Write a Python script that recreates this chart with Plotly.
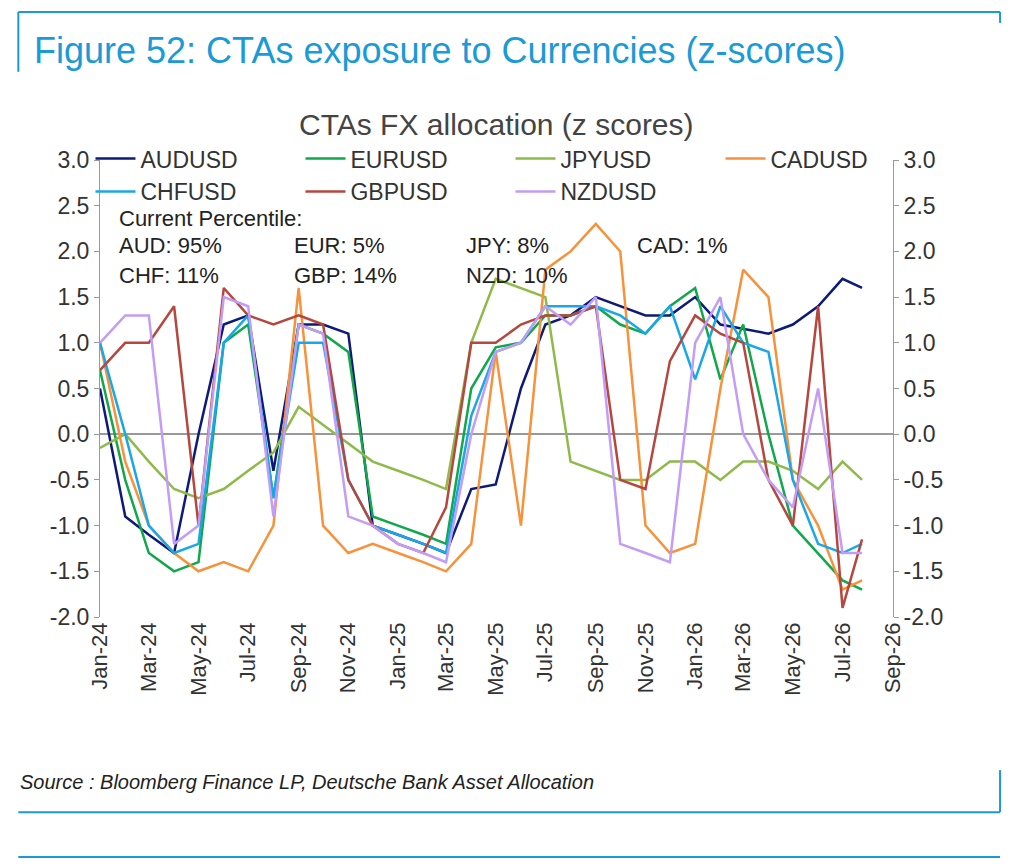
import plotly.graph_objects as go
import pandas as pd

dates = pd.date_range("2024-01-01", "2026-07-01", freq="MS").strftime("%Y-%m-%d").tolist() + ["2026-07-25"]

aud = [0.5,-0.9,-1.1,-1.3,0.0,1.2,1.3,-0.4,1.2,1.2,1.1,-1.0,-1.1,-1.2,-1.3,-0.6,-0.55,0.5,1.2,1.3,1.5,1.4,1.3,1.3,1.5,1.2,1.15,1.1,1.2,1.4,1.7,1.6]
eur = [0.7,-0.5,-1.3,-1.5,-1.4,1.0,1.2,-0.7,1.2,1.1,0.9,-0.9,-1.0,-1.1,-1.2,0.5,0.95,1.0,1.3,1.3,1.4,1.2,1.1,1.4,1.6,0.6,1.2,0.0,-1.0,-1.3,-1.6,-1.7]
jpy = [-0.15,0.0,-0.3,-0.6,-0.7,-0.6,-0.4,-0.2,0.3,0.1,-0.1,-0.3,-0.4,-0.5,-0.6,1.0,1.7,1.6,1.5,-0.3,-0.4,-0.5,-0.5,-0.3,-0.3,-0.5,-0.3,-0.3,-0.4,-0.6,-0.3,-0.5]
cad = [1.0,-0.3,-1.0,-1.3,-1.5,-1.4,-1.5,-1.0,1.6,-1.0,-1.3,-1.2,-1.3,-1.4,-1.5,-1.2,0.9,-1.0,1.8,2.0,2.3,2.0,-1.0,-1.3,-1.2,0.5,1.8,1.5,-0.5,-1.0,-1.7,-1.6]
chf = [1.0,0.0,-1.0,-1.3,-1.2,1.0,1.3,-0.7,1.0,1.0,-0.5,-1.0,-1.1,-1.2,-1.3,0.2,0.9,1.0,1.4,1.4,1.4,1.3,1.1,1.4,0.6,1.4,1.0,0.9,-0.5,-1.2,-1.3,-1.2]
gbp = [0.7,1.0,1.0,1.4,-1.0,1.6,1.3,1.2,1.3,1.2,-0.5,-1.0,-1.2,-1.3,-0.8,1.0,1.0,1.2,1.3,1.3,1.4,-0.5,-0.6,0.8,1.3,1.1,1.0,-0.5,-1.0,1.4,-1.9,-1.15]
nzd = [1.0,1.3,1.3,-1.2,-1.0,1.5,1.4,-0.9,1.2,1.1,-0.9,-1.0,-1.2,-1.3,-1.4,0.0,0.9,1.0,1.4,1.2,1.5,-1.2,-1.3,-1.4,1.0,1.5,0.0,-0.5,-0.8,0.5,-1.3,-1.3]

series = [("AUDUSD",aud,"#0d1a7a"),("EURUSD",eur,"#10a84a"),("JPYUSD",jpy,"#8fba4a"),("CADUSD",cad,"#f7923a"),
          ("CHFUSD",chf,"#1aa7e8"),("GBPUSD",gbp,"#b5473e"),("NZDUSD",nzd,"#c39cf5")]

fig = go.Figure()
for name, vals, col in series:
    fig.add_trace(go.Scatter(x=dates, y=vals, name=name, mode="lines", line=dict(color=col, width=2.5)))
fig.add_trace(go.Scatter(x=dates[:1], y=[None], yaxis="y2", showlegend=False, hoverinfo="skip"))

tickvals = pd.date_range("2024-01-01", "2026-09-01", freq="2MS").strftime("%Y-%m-%d").tolist()
ticktext = pd.to_datetime(tickvals).strftime("%b-%y").tolist()
yt = [3.0,2.5,2.0,1.5,1.0,0.5,0.0,-0.5,-1.0,-1.5,-2.0]
ytt = [f"{v:.1f}" for v in yt]
font = dict(family="Liberation Sans, Arial", color="#333", size=23)

fig.update_layout(
    width=1020, height=864, plot_bgcolor="white", paper_bgcolor="white",
    margin=dict(l=92, r=135, t=152, b=255), font=font,
    xaxis=dict(range=["2024-01-01","2026-09-01"], tickvals=tickvals, ticktext=ticktext, tickangle=-90,
               showgrid=False, showline=False, ticks="", tickfont=dict(size=22)),
    yaxis=dict(range=[-2.0,3.0], tickvals=yt, ticktext=ytt, showgrid=False, zeroline=True,
               zerolinecolor="#999", zerolinewidth=1.5, showline=True, linecolor="#999", ticks="outside",
               tickcolor="#999", ticklen=5),
    yaxis2=dict(range=[-2.0,3.0], tickvals=yt, ticktext=ytt, overlaying="y", side="right", showgrid=False,
                showline=True, linecolor="#999", ticks="outside", tickcolor="#999", ticklen=5, zeroline=False),
    legend=dict(orientation="h", x=-0.012, y=1.05, yanchor="top", xanchor="left", entrywidth=155,
                bgcolor="rgba(0,0,0,0)", font=dict(size=23), tracegroupgap=0, itemwidth=40),
    showlegend=True,
)
fig.add_annotation(text="Figure 52: CTAs exposure to Currencies (z-scores)", xref="paper", yref="paper",
                   x=-0.086, y=1.24, xanchor="left", yanchor="middle", showarrow=False,
                   font=dict(size=36, color="#1a9ad6"))
fig.add_annotation(text="CTAs FX allocation (z scores)", xref="paper", yref="paper", x=0.5, y=1.077,
                   xanchor="center", yanchor="middle", showarrow=False, font=dict(size=30, color="#444"))
perc = [("Current Percentile:",0.021,0.873),("AUD: 95%",0.021,0.812),("EUR: 5%",0.242,0.812),("JPY: 8%",0.459,0.812),
        ("CAD: 1%",0.675,0.812),("CHF: 11%",0.021,0.748),("GBP: 14%",0.242,0.748),("NZD: 10%",0.459,0.748)]
for t,x,y in perc:
    fig.add_annotation(text=t, xref="paper", yref="paper", x=x, y=y, xanchor="left", yanchor="middle",
                       showarrow=False, font=dict(size=22, color="#222"))
fig.add_annotation(text="<i>Source : Bloomberg Finance LP, Deutsche Bank Asset Allocation</i>", xref="paper",
                   yref="paper", x=-0.103, y=-0.361, xanchor="left", yanchor="middle", showarrow=False,
                   font=dict(size=20, color="#222"))
blue = "#1a9ad6"
L, R = -0.103, 1.135
shapes = [
    dict(type="line", xref="paper", yref="paper", x0=L, x1=R, y0=1.324, y1=1.324, line=dict(color=blue, width=2)),
    dict(type="line", xref="paper", yref="paper", x0=L, x1=L, y0=1.324, y1=1.193, line=dict(color=blue, width=2)),
    dict(type="line", xref="paper", yref="paper", x0=R, x1=R, y0=1.324, y1=1.30, line=dict(color=blue, width=2)),
    dict(type="line", xref="paper", yref="paper", x0=L, x1=R, y0=-0.427, y1=-0.427, line=dict(color=blue, width=2)),
    dict(type="line", xref="paper", yref="paper", x0=R, x1=R, y0=-0.427, y1=-0.335, line=dict(color=blue, width=2)),
    dict(type="line", xref="paper", yref="paper", x0=L, x1=R, y0=-0.525, y1=-0.525, line=dict(color=blue, width=2)),
]
fig.update_layout(shapes=shapes)
fig.write_html("out.html")
